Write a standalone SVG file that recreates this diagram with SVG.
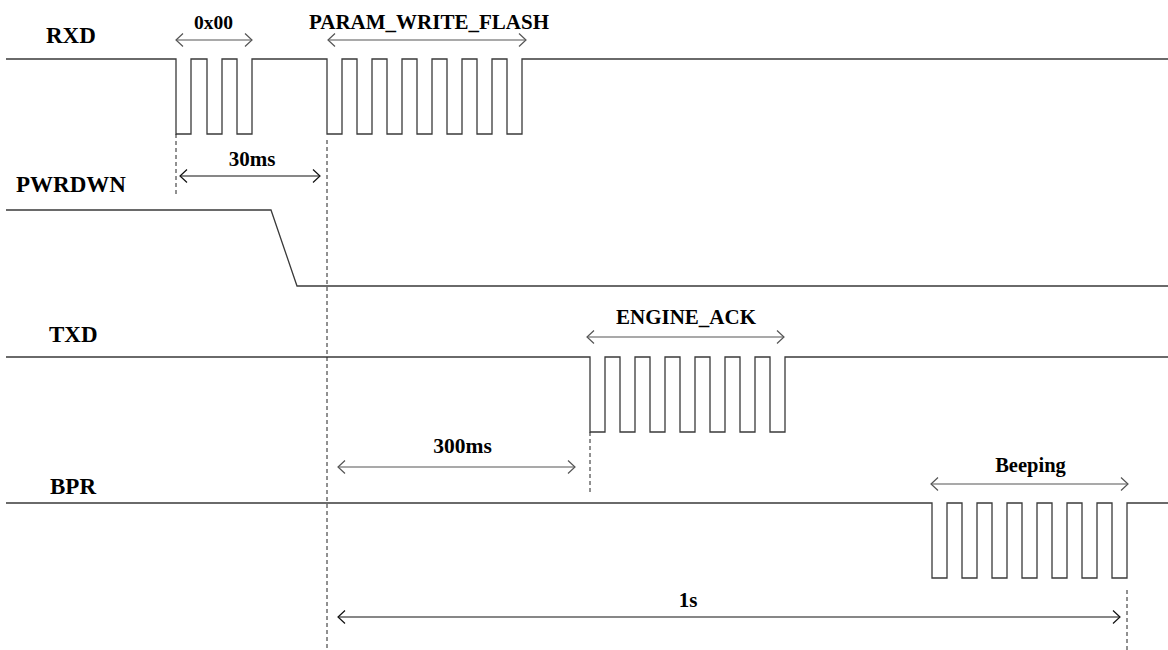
<svg xmlns="http://www.w3.org/2000/svg" width="1168" height="650" viewBox="0 0 1168 650">
<style>
.lbl{font-family:"Liberation Serif","Times New Roman",serif;font-weight:bold;fill:#000}
.sig{font-size:23px}
.ann{text-anchor:middle}
.wave{fill:none;stroke:#3a3a3a;stroke-width:1.3}
.dash{fill:none;stroke:#222;stroke-width:1;stroke-dasharray:4,3}
.dim{fill:none;stroke:#555;stroke-width:1.2;marker-start:url(#ah);marker-end:url(#ah)}
.dimk{fill:none;stroke:#111;stroke-width:1.2;marker-start:url(#ahk);marker-end:url(#ahk)}
</style>
<defs>
<marker id="ah" viewBox="0 0 10 14" refX="9" refY="7" markerWidth="10" markerHeight="14" markerUnits="userSpaceOnUse" orient="auto-start-reverse">
<path d="M2,0.5 L9,7 L2,13.5" fill="none" stroke="#555" stroke-width="1.2"/>
</marker>
<marker id="ahk" viewBox="0 0 10 14" refX="9" refY="7" markerWidth="10" markerHeight="14" markerUnits="userSpaceOnUse" orient="auto-start-reverse">
<path d="M2,0.5 L9,7 L2,13.5" fill="none" stroke="#111" stroke-width="1.2"/>
</marker>
</defs>
<rect width="1168" height="650" fill="#fff"/>
<g id="rxd">
<text class="lbl sig" x="46" y="43">RXD</text>
<path class="wave" d="M6,59 H176 V134 H191 V59 H207 V134 H222 V59 H237 V134 H252 V59 H327 V134 H342 V59 H357 V134 H372 V59 H387 V134 H402 V59 H417 V134 H432 V59 H447 V134 H462 V59 H477 V134 H492 V59 H507 V134 H522 V59 H1168"/>
</g>
<g id="pwrdwn">
<text class="lbl sig" x="16" y="192">PWRDWN</text>
<path class="wave" d="M6,210 H271 L297,286 H1168"/>
</g>
<g id="txd">
<text class="lbl sig" x="49" y="342">TXD</text>
<path class="wave" d="M6,357 H590 V432 H605 V357 H620 V432 H635 V357 H650 V432 H665 V357 H680 V432 H695 V357 H710 V432 H725 V357 H740 V432 H755 V357 H770 V432 H785 V357 H1168"/>
</g>
<g id="bpr">
<text class="lbl sig" x="50" y="494">BPR</text>
<path class="wave" d="M6,503 H932 V578 H947 V503 H962 V578 H977 V503 H992 V578 H1007 V503 H1022 V578 H1037 V503 H1052 V578 H1067 V503 H1082 V578 H1097 V503 H1112 V578 H1127 V503 H1168"/>
</g>
<g id="connectors">
<path class="dash" d="M176,134 V196"/>
<path class="dash" d="M327,140 V650"/>
<path class="dash" d="M590,432 V492"/>
<path class="dash" d="M1127,590 V650"/>
<path class="dim" d="M176,40 H252"/>
<path class="dim" d="M328,40 H526"/>
<path class="dimk" d="M180,176 H320"/>
<path class="dim" d="M587,337 H784"/>
<path class="dim" d="M338,467 H575"/>
<path class="dim" d="M931,484 H1128"/>
<path class="dimk" d="M338,617 H1120"/>
</g>
<g id="labels">
<text class="lbl ann" x="213.5" y="29" font-size="19.5">0x00</text>
<text class="lbl ann" x="429" y="29" font-size="21">PARAM_WRITE_FLASH</text>
<text class="lbl ann" x="252" y="166" font-size="21">30ms</text>
<text class="lbl ann" x="686" y="324" font-size="21">ENGINE_ACK</text>
<text class="lbl ann" x="462.5" y="453" font-size="21.5">300ms</text>
<text class="lbl ann" x="1030.5" y="472" font-size="20.5">Beeping</text>
<text class="lbl ann" x="688" y="607" font-size="21">1s</text>
</g>
</svg>
